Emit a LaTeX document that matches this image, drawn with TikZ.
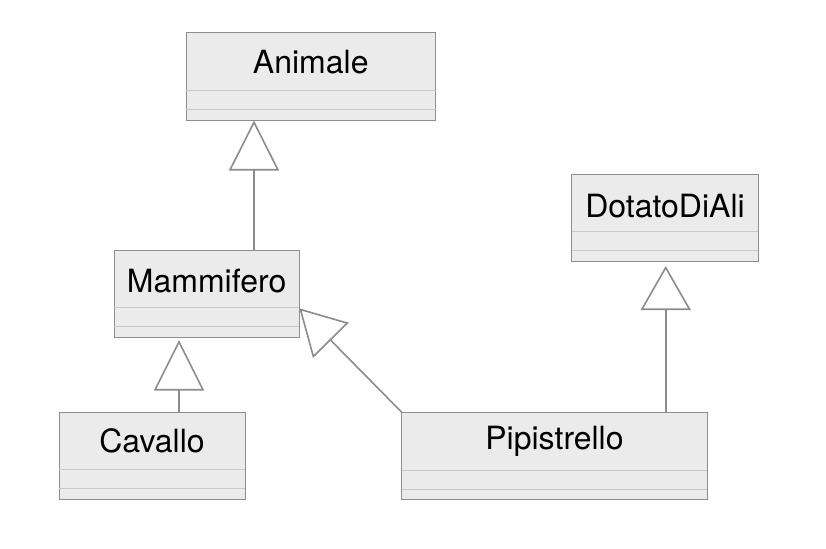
\documentclass[tikz,border=0pt]{standalone}
\usepackage{fontspec}
\setmainfont{TeX Gyre Heros}
\usetikzlibrary{arrows.meta}
\definecolor{boxfill}{HTML}{EBEBEB}
\definecolor{boxline}{HTML}{8E8E8E}
\definecolor{divline}{HTML}{C9C9C9}
\definecolor{linkline}{HTML}{8C8C8C}
\tikzset{
  classbox/.style={draw=boxline, fill=boxfill, line width=1pt, inner sep=0pt, outer sep=0pt, anchor=north west},
  divider/.style={draw=divline, line width=1pt},
  classname/.style={anchor=base, inner sep=0pt, font=\fontsize{32pt}{37pt}\selectfont, text=black},
  gen/.style={draw=linkline, line width=1.6pt, -{Triangle[open, length=#1pt, width=50pt, line width=1.6pt]}}
}
\begin{document}
\begin{tikzpicture}[x=1pt, y=-1pt]
\useasboundingbox[fill=white] (0,0) rectangle (826,548);
% classes
\node[classbox, minimum width=249.5pt, minimum height=87.5pt] (ani) at (186,33) {};
\node[classbox, minimum width=185.3pt, minimum height=87.3pt] (mam) at (114,250) {};
\node[classbox, minimum width=186pt, minimum height=86.7pt] (cav) at (59,412.3) {};
\node[classbox, minimum width=305.6pt, minimum height=86.7pt] (pip) at (401.7,412.3) {};
\node[classbox, minimum width=186.6pt, minimum height=86.7pt] (dot) at (571.7,174.3) {};
% dividers
\draw[divider] (ani.west |- 0,90.5) -- (ani.east |- 0,90.5);
\draw[divider] (ani.west |- 0,109.5) -- (ani.east |- 0,109.5);
\draw[divider] (mam.west |- 0,307.7) -- (mam.east |- 0,307.7);
\draw[divider] (mam.west |- 0,326.7) -- (mam.east |- 0,326.7);
\draw[divider] (cav.west |- 0,469.3) -- (cav.east |- 0,469.3);
\draw[divider] (cav.west |- 0,488) -- (cav.east |- 0,488);
\draw[divider] (pip.west |- 0,470) -- (pip.east |- 0,470);
\draw[divider] (pip.west |- 0,489) -- (pip.east |- 0,489);
\draw[divider] (dot.west |- 0,231.7) -- (dot.east |- 0,231.7);
\draw[divider] (dot.west |- 0,250.7) -- (dot.east |- 0,250.7);
% names
\node[classname] (aniT) at (ani.north |- 0,73.3) {Animale};
\node[classname] (mamT) at (mam.north |- 0,292.3) {Mammifero};
\node[classname] (cavT) at (cav.north |- 0,452.7) {Cavallo};
\node[classname] (pipT) at (pip.north |- 0,449.3) {Pipistrello};
\node[classname] (dotT) at (dot.north |- 0,217.3) {DotatoDiAli};
% generalizations
\draw[gen=50] (mam.north -| 254,0) -- (ani.south -| 254,0);
\draw[gen=50.5, shorten >=2.7pt] (cav.north -| 179,0) -- (mam.south -| 179,0);
\draw[gen=44, shorten >=5pt] (pip.north -| 665.7,0) -- (dot.south -| 665.7,0);
\draw[gen=45] (pip.north west) -- (mam.east |- 0,308.3);
\end{tikzpicture}
\end{document}
